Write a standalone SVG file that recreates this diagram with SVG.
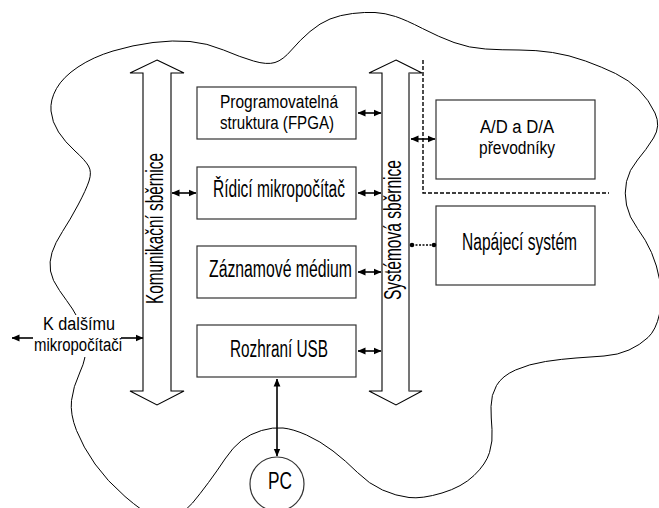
<svg xmlns="http://www.w3.org/2000/svg" width="659" height="508" viewBox="0 0 659 508">
<style>
text{font-family:"Liberation Sans",Arial,sans-serif;font-size:23px;fill:#000}
.two{font-size:18px}
.box{fill:#fff;stroke:#333;stroke-width:1.2}
.bus{fill:#fff;stroke:#000;stroke-width:1.1}
.cloud{fill:none;stroke:#000;stroke-width:1}
.arr{stroke:#000;stroke-width:1.6;fill:none;marker-start:url(#ah);marker-end:url(#ah)}
.dash{stroke:#000;stroke-width:1.4;fill:none;stroke-dasharray:4 2}
</style>
<defs>
<marker id="ah" viewBox="0 0 8 8" refX="7.5" refY="4" markerWidth="8" markerHeight="8" markerUnits="userSpaceOnUse" orient="auto-start-reverse"><path d="M0,0.6 L8,4 L0,7.4 z" fill="#000"/></marker>
</defs>
<rect width="659" height="508" fill="#fff"/>
<g id="cloud">
<path class="cloud" d="M51,111 Q50,100 56.5,88.5 Q63,77 78,67 Q93,57 113,51 Q133,45 153,42.5 Q173,40 190,41.5 Q207,43 223.5,50 Q240,57 253.5,61 Q267,65 275,62.5 Q283,60 291.5,50 Q300,40 310,31.5 Q320,23 330,19 Q340,15 352.5,13.5 Q365,12 375,12.5 Q385,13 395.5,16.5 Q406,20 422.5,28.5 Q439,37 454,42.5 Q469,48 485.5,49 Q502,50 519,50 Q536,50 552.5,52.5 Q569,55 585.5,61 Q602,67 615.5,73.5 Q629,80 639,90 Q649,100 655,113 Q661,126 653.5,138 Q646,150 637.5,160 Q629,170 626.5,181.5 Q624,193 626.5,205 Q629,217 637.5,228.5 Q646,240 651.5,252.5 Q657,265 660,281.5 Q663,298 659.5,314 Q656,330 648,337.5 Q640,345 629,350 Q618,355 604,356 Q590,357 576,358 Q562,359 545.5,361.5 Q529,364 515.5,370 Q502,376 496.5,385.5 Q491,395 491,406.5 Q491,418 492,429.5 Q493,441 489.5,452.5 Q486,464 474,475.5 Q462,487 442,493 Q422,499 409,497.5 Q396,496 382.5,490 Q369,484 357.5,472.5 Q346,461 333,451 Q320,441 306.5,435 Q293,429 283,428 Q273,427 261.5,430.5 Q250,434 241.5,440.5 Q233,447 225,459 Q217,471 208.5,482.5 Q200,494 192.5,503 Q185,512 175,517 Q165,522 154,517 Q143,512 125,496.5 Q107,481 95,464 Q83,447 76.5,430.5 Q70,414 71.5,400.5 Q73,387 80,372 Q87,357 85,346 Q83,335 80.5,326 Q78,317 72.5,309 Q67,301 59.5,290.5 Q52,280 50.5,271 Q49,262 52,252.5 Q55,243 62.5,231.5 Q70,220 78,205 Q86,190 89,181 Q92,172 88.5,166 Q85,160 75,151 Q65,142 58.5,132 Q52,122 51,111 Z"/>
</g>
<g id="bus-komunikacni">
<polygon class="bus" points="157,60 184,73 171,73 171,391 184,391 157,405 130,391 143,391 143,73 130,73"/>
<text transform="translate(163,304) rotate(-90)" font-size="24" textLength="151" lengthAdjust="spacingAndGlyphs">Komunikační sběrnice</text>
</g>
<g id="bus-systemova">
<polygon class="bus" points="396,60 422,73 409,73 409,391 422,391 396,405 369,391 382,391 382,73 369,73"/>
<line x1="409" y1="73" x2="409" y2="391" stroke="#777" stroke-width="1.6"/>
<text transform="translate(401,300) rotate(-90)" font-size="24" textLength="140" lengthAdjust="spacingAndGlyphs">Systémová sběrnice</text>
</g>
<g id="fpga">
<rect class="box" x="197" y="87" width="159" height="52"/>
<text class="two" x="220" y="108" textLength="118" lengthAdjust="spacingAndGlyphs">Programovatelná</text>
<text class="two" x="220" y="129" textLength="114" lengthAdjust="spacingAndGlyphs">struktura (FPGA)</text>
</g>
<g id="ridici">
<rect class="box" x="197" y="167" width="159" height="52"/>
<text x="213" y="197" textLength="132" lengthAdjust="spacingAndGlyphs">Řídicí mikropočítač</text>
</g>
<g id="zaznamove">
<rect class="box" x="197" y="246" width="159" height="52"/>
<text x="209" y="277" textLength="143" lengthAdjust="spacingAndGlyphs">Záznamové médium</text>
</g>
<g id="usb">
<rect class="box" x="197" y="325" width="159" height="52"/>
<text x="230" y="357" textLength="98" lengthAdjust="spacingAndGlyphs">Rozhraní USB</text>
</g>
<g id="adda">
<rect class="box" x="436" y="100" width="159" height="79"/>
<text class="two" x="480" y="133" textLength="74" lengthAdjust="spacingAndGlyphs">A/D a D/A</text>
<text class="two" x="479" y="154" textLength="76" lengthAdjust="spacingAndGlyphs">převodníky</text>
</g>
<g id="napajeci">
<rect class="box" x="436" y="206" width="159" height="79"/>
<text x="462" y="250" textLength="115" lengthAdjust="spacingAndGlyphs">Napájecí systém</text>
</g>
<g id="pc">
<circle cx="277" cy="484" r="27" fill="#fff" stroke="#333" stroke-width="1.2"/>
<text x="268" y="489" textLength="24" lengthAdjust="spacingAndGlyphs">PC</text>
</g>
<g id="dalsi">
<rect x="35" y="315" width="85" height="42" fill="#fff"/>
<text class="two" x="43" y="330" textLength="72" lengthAdjust="spacingAndGlyphs">K dalšímu</text>
<text class="two" x="34" y="351" textLength="88" lengthAdjust="spacingAndGlyphs">mikropočítači</text>
</g>
<g id="connectors">
<line class="arr" x1="358" y1="113" x2="381" y2="113"/>
<line class="arr" x1="172" y1="193" x2="196" y2="193"/>
<line class="arr" x1="358" y1="193" x2="381" y2="193"/>
<line class="arr" x1="358" y1="272" x2="381" y2="272"/>
<line class="arr" x1="358" y1="351" x2="381" y2="351"/>
<line class="arr" x1="411" y1="139" x2="435" y2="139"/>
<line class="arr" x1="277" y1="379" x2="277" y2="456"/>
<line x1="12" y1="338" x2="33" y2="338" stroke="#000" stroke-width="1.6" marker-start="url(#ah)"/>
<line x1="121" y1="338" x2="143" y2="338" stroke="#000" stroke-width="1.6" marker-end="url(#ah)"/>
<polyline class="dash" points="423,60 423,193 609,193"/>
<line x1="412" y1="245" x2="434" y2="245" stroke="#000" stroke-width="1.4" stroke-dasharray="2 1.5"/>
<circle cx="412" cy="245" r="2.3" fill="#000"/>
<circle cx="434" cy="245" r="2.3" fill="#000"/>
</g>
</svg>
